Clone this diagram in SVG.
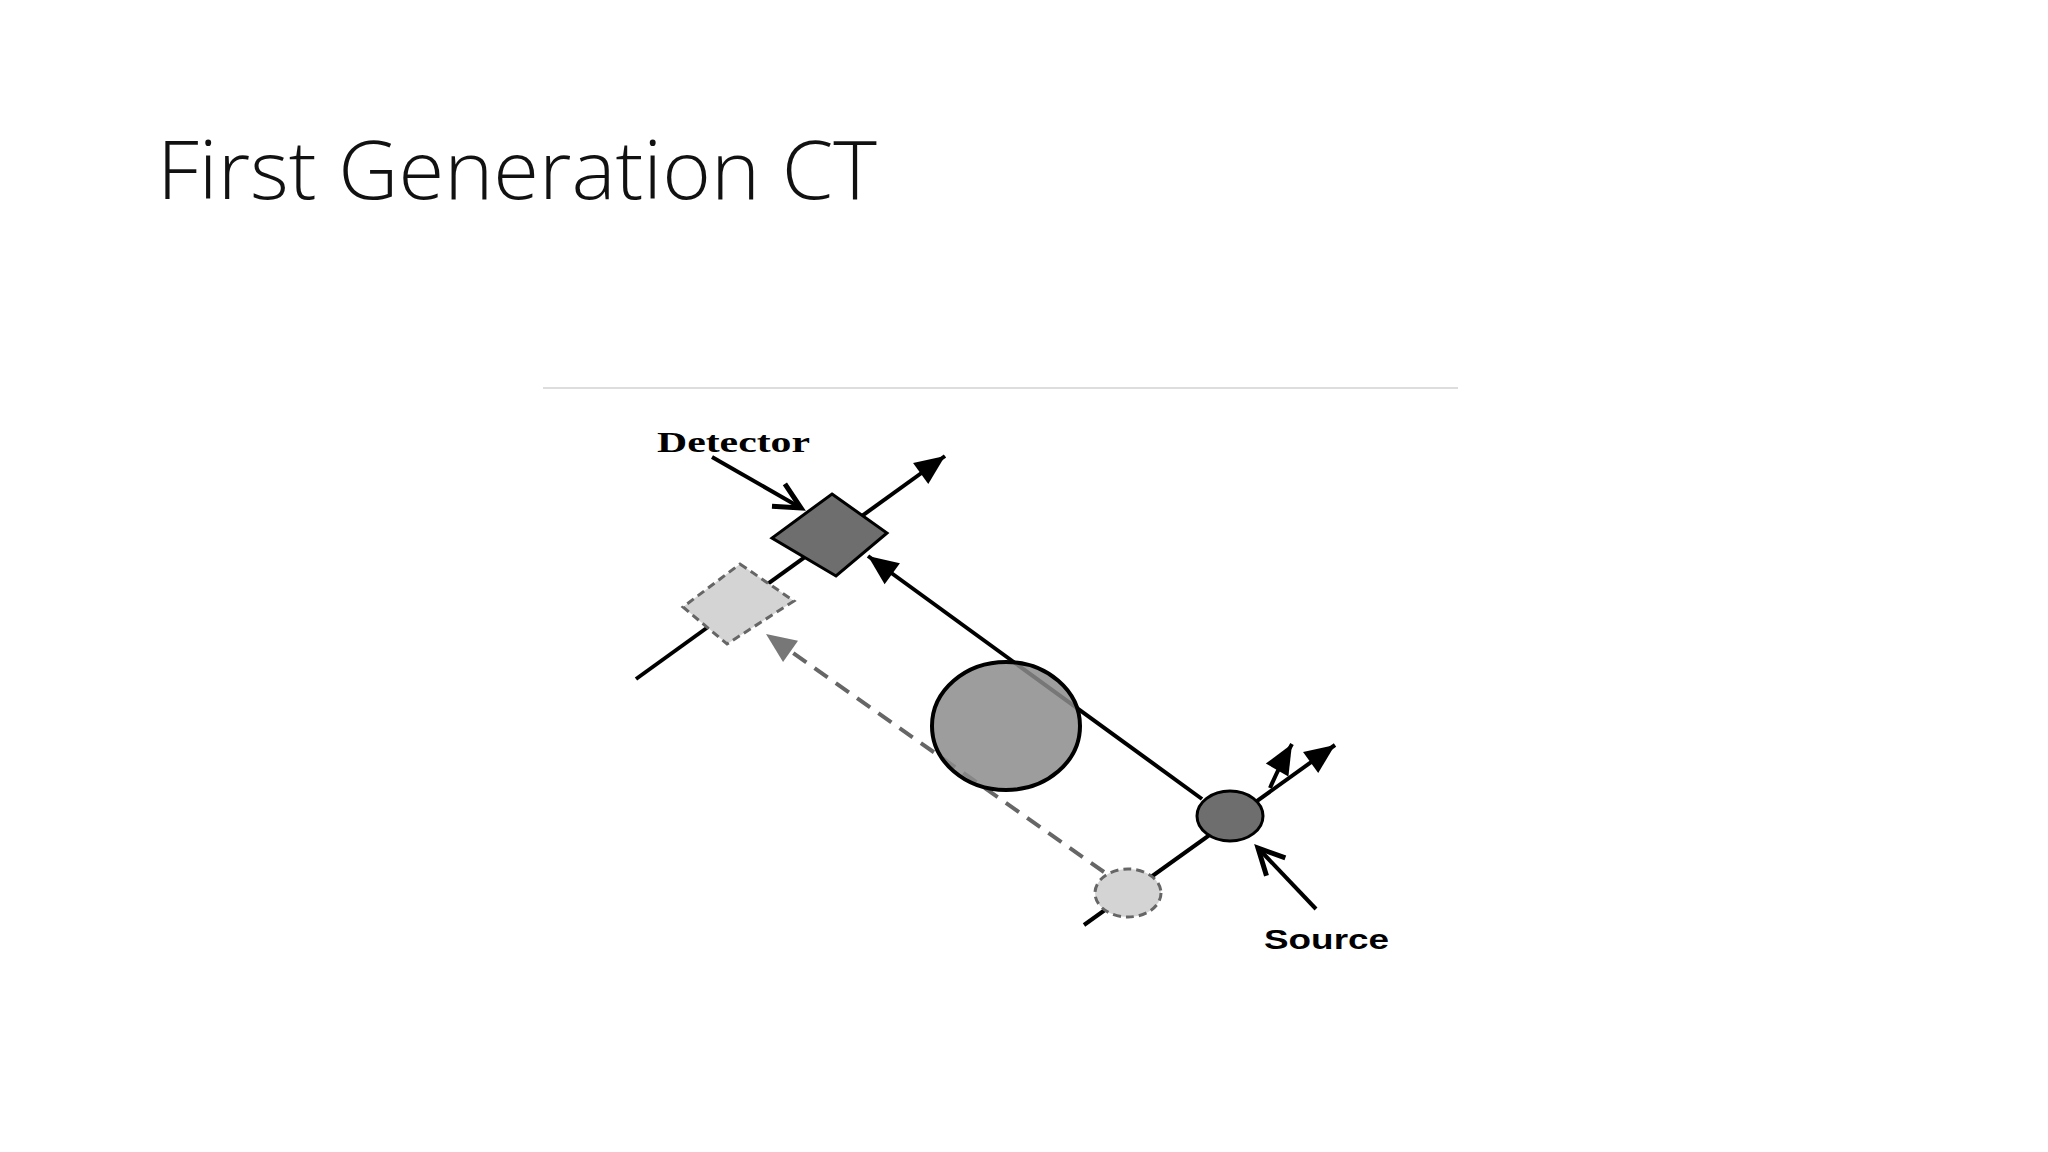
<svg xmlns="http://www.w3.org/2000/svg" width="2048" height="1152" viewBox="0 0 2048 1152">
<defs>
<style>
.ln{stroke:#000;stroke-width:4;fill:none}
.dl{stroke:#666;stroke-width:4;fill:none;stroke-dasharray:16 10}
</style>
<marker id="ah" markerWidth="10" markerHeight="10" refX="8" refY="5" orient="auto" markerUnits="userSpaceOnUse" viewBox="0 0 10 10" style="overflow:visible"><path d="M-22,-8 L8,5 L-22,18 Z" fill="#000"/></marker>
<marker id="ahg" markerWidth="10" markerHeight="10" refX="8" refY="5" orient="auto" markerUnits="userSpaceOnUse" viewBox="0 0 10 10" style="overflow:visible"><path d="M-22,-8 L8,5 L-22,18 Z" fill="#777"/></marker>
<marker id="ao" markerWidth="10" markerHeight="10" refX="8" refY="5" orient="auto" markerUnits="userSpaceOnUse" viewBox="0 0 10 10" style="overflow:visible"><path d="M-18,-8 L8,5 L-18,18" fill="none" stroke="#000" stroke-width="5"/></marker>
</defs>
<rect width="2048" height="1152" fill="#fff"/>
<text x="157" y="199" font-family="'Open Sans','Liberation Sans',sans-serif" font-weight="300" font-size="82" textLength="720" lengthAdjust="spacingAndGlyphs" fill="#111">First Generation CT</text>
<line x1="543" y1="388" x2="1458" y2="388" stroke="#ddd" stroke-width="2"/>
<g id="connectors">
<line class="ln" x1="636" y1="679" x2="945" y2="456" marker-end="url(#ah)"/>
<line class="ln" x1="1084" y1="925" x2="1335" y2="745" marker-end="url(#ah)"/>
<line class="ln" x1="1202" y1="799" x2="868" y2="556" marker-end="url(#ah)"/>
<line class="dl" x1="1104" y1="872" x2="766" y2="634" marker-end="url(#ahg)"/>
<path class="ln" d="M1270,788 Q1280,765 1292,744" marker-end="url(#ah)"/>
<line class="ln" x1="712" y1="457" x2="801" y2="508" marker-end="url(#ao)" stroke-width="5"/>
<line class="ln" x1="1316" y1="909" x2="1258" y2="848" marker-end="url(#ao)" stroke-width="5"/>
</g>
<g id="detector-prev"><polygon points="740,564 794,601 727,644 683,607" fill="#d4d4d4" stroke="#666" stroke-width="3" stroke-dasharray="8 5"/></g>
<g id="object"><ellipse cx="1006" cy="726" rx="74" ry="64" fill="#8c8c8c" fill-opacity="0.85" stroke="#000" stroke-width="4"/></g>
<g id="source-prev"><ellipse cx="1128" cy="893" rx="33" ry="24" fill="#d4d4d4" stroke="#666" stroke-width="3" stroke-dasharray="8 5"/></g>
<g id="detector"><polygon points="832,494 887,533 836,576 772,538" fill="#6e6e6e" stroke="#000" stroke-width="3"/>
<text x="657" y="452" font-family="'Liberation Serif',serif" font-weight="bold" font-size="30" textLength="153" lengthAdjust="spacingAndGlyphs">Detector</text></g>
<g id="source"><ellipse cx="1230" cy="816" rx="33" ry="25" fill="#6e6e6e" stroke="#000" stroke-width="3"/>
<text x="1264" y="949" font-family="'Liberation Sans',sans-serif" font-weight="bold" font-size="28" textLength="125" lengthAdjust="spacingAndGlyphs">Source</text></g>
</svg>
